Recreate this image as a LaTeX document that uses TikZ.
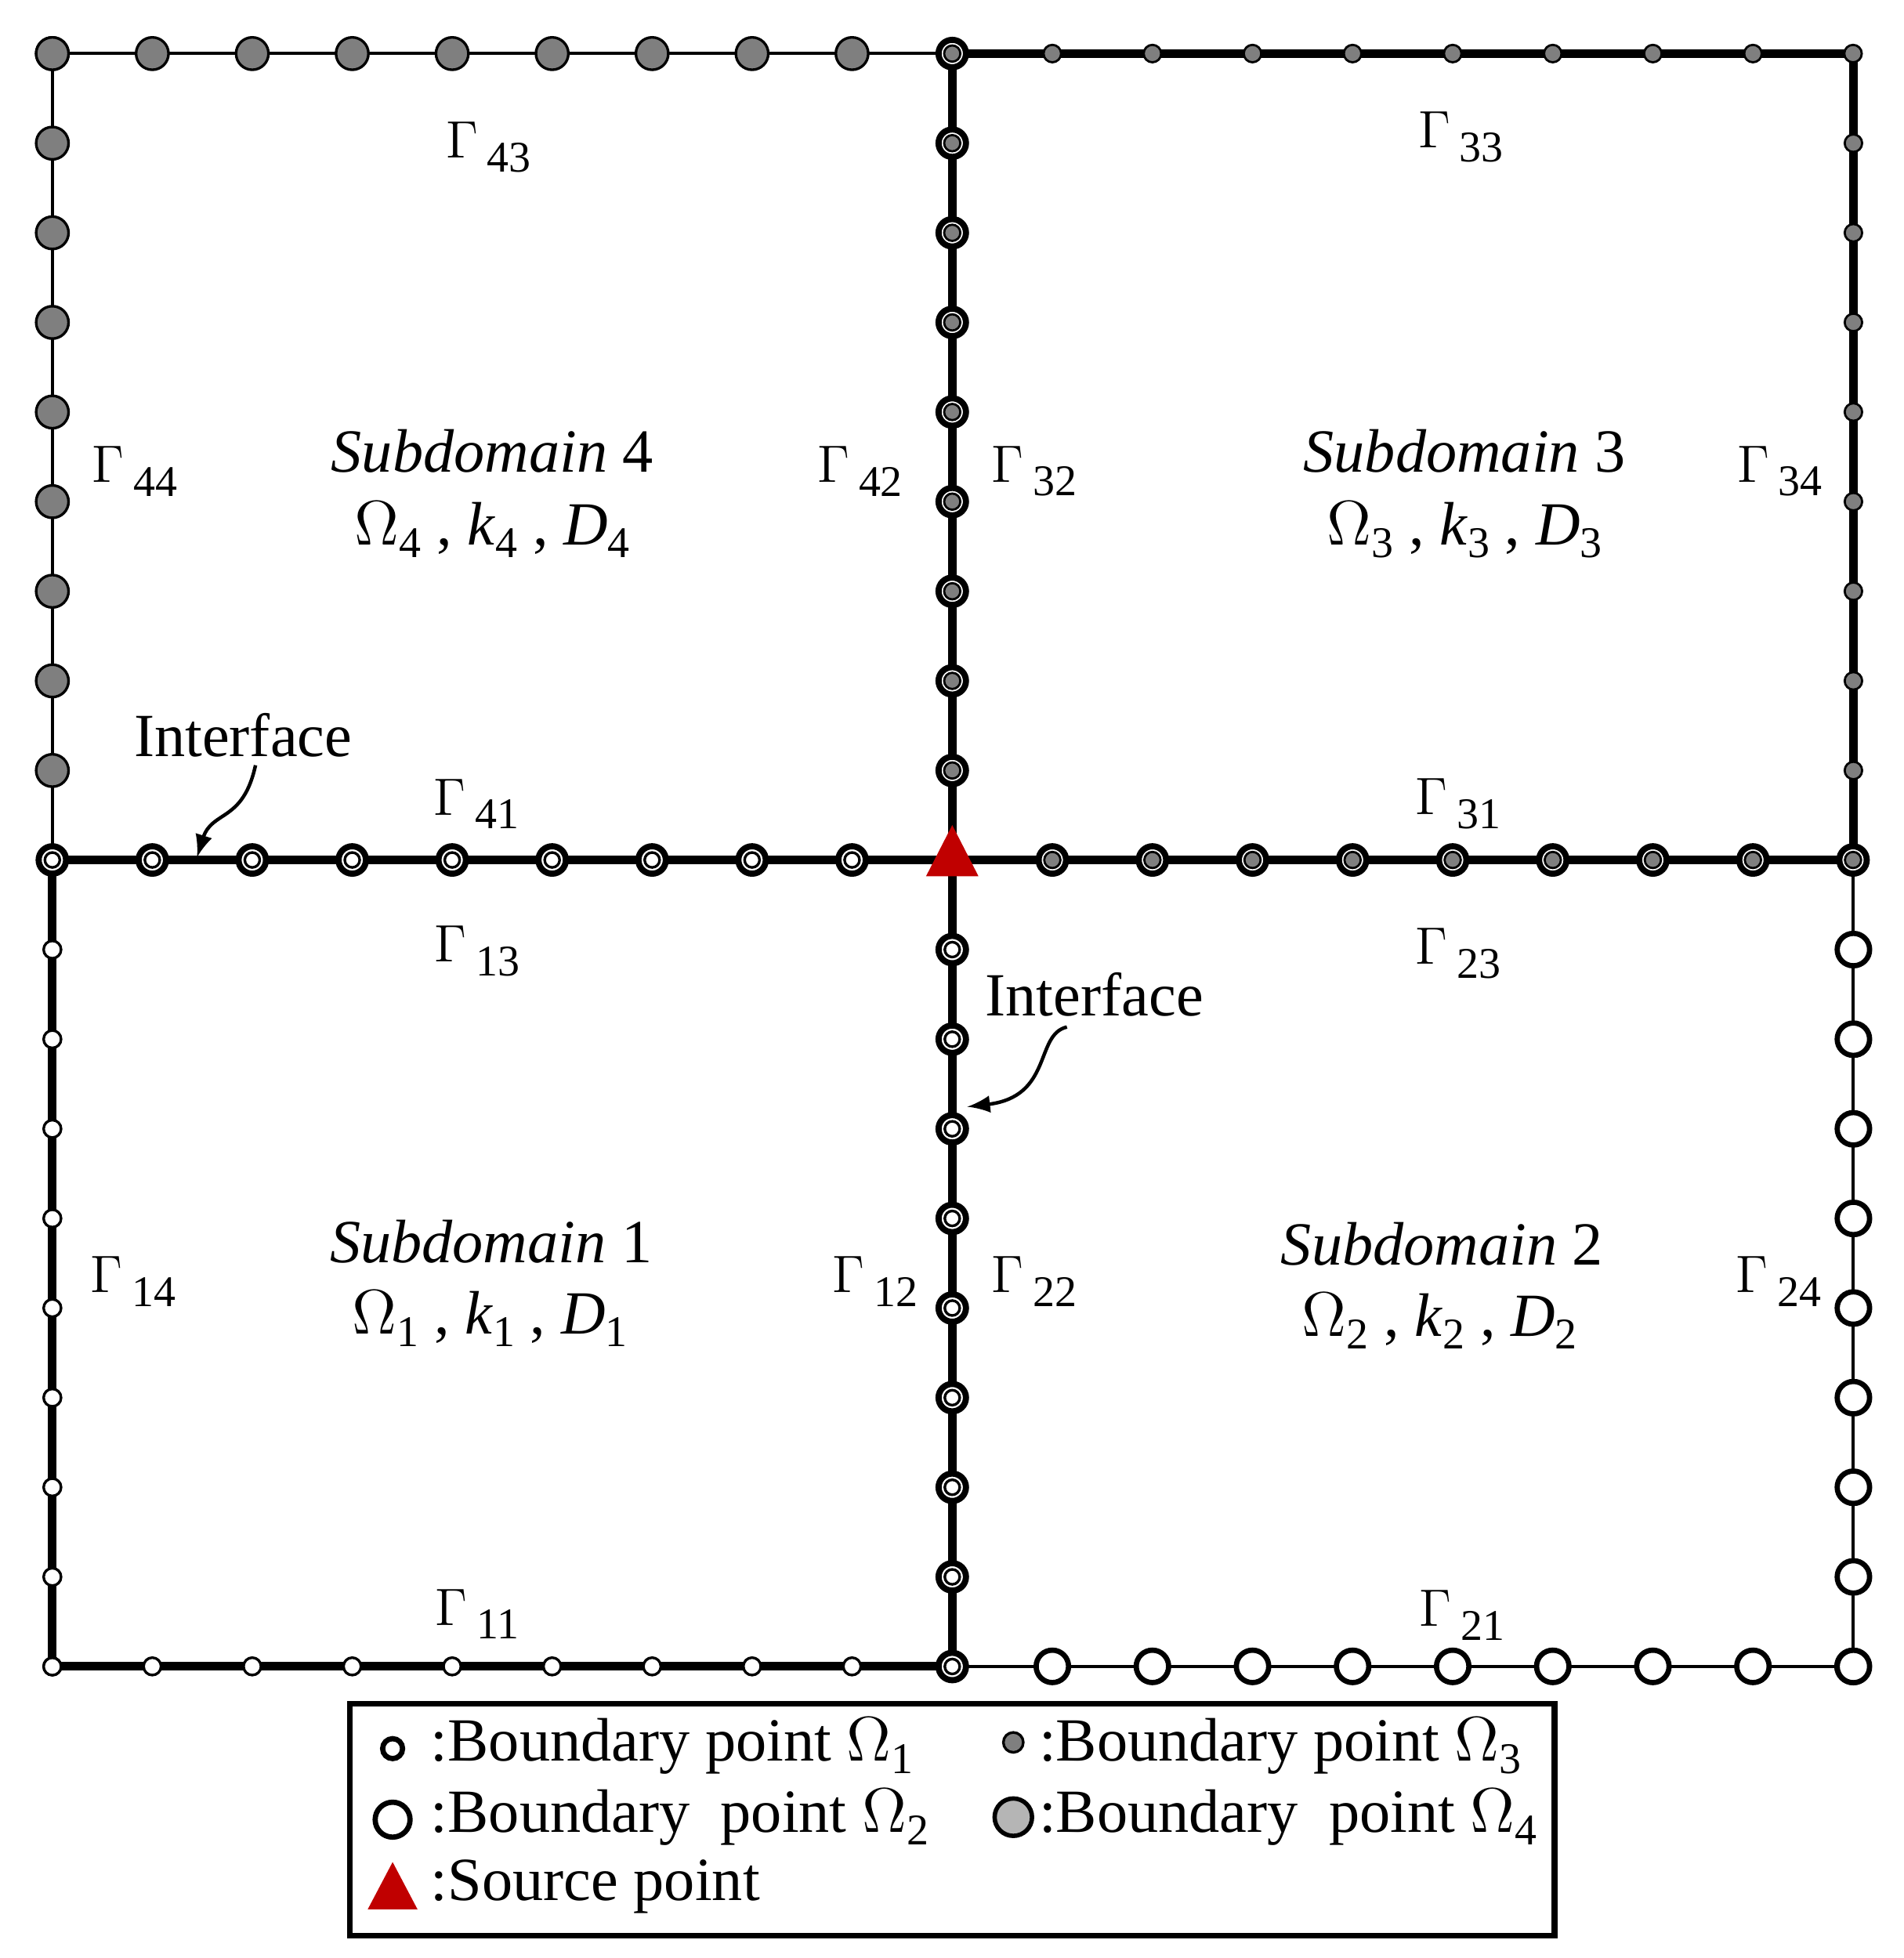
\documentclass[tikz,border=0pt]{standalone}
\usepackage{fontspec}
\setmainfont{Liberation Serif}
\begin{document}
\begin{tikzpicture}[x=0.01cm,y=-0.01cm,
  thinln/.style={line width=0.7pt},
  thickln/.style={line width=1.9pt},
  lbl/.style={font=\fontsize{12.5}{14}\selectfont, inner sep=0pt},
  big/.style={font=\fontsize{14}{16}\selectfont, inner sep=0pt},
  arr/.style={-latex, line width=0.8pt}]
\useasboundingbox (0,0) rectangle (1527,1571);
\definecolor{dg}{HTML}{7F7F7F}
\definecolor{lg}{HTML}{B5B5B5}
\definecolor{src}{HTML}{C00000}
\newcommand\Gm[1]{$\Gamma$\,\raisebox{-0.55ex}{\fontsize{10}{12}\selectfont #1}}
\newcommand\sbs[1]{\raisebox{-0.45ex}{\fontsize{10}{12}\selectfont #1}}
% corners
\coordinate (TL) at (42,43); \coordinate (TM) at (764,43); \coordinate (TR) at (1487,43);
\coordinate (ML) at (42,690); \coordinate (C) at (764,690); \coordinate (MR) at (1487,690);
\coordinate (BL) at (42,1337); \coordinate (BM) at (764,1337); \coordinate (BR) at (1487,1337);
% lines
\draw[thinln] (TM) -- (TL) -- (ML);
\draw[thinln] (BM) -- (BR) -- (MR);
\draw[thickln] (TM) -- (TR) -- (MR) -- (ML) -- (BL) -- (BM) -- (TM);
\foreach \i in {0,...,8}{
  \fill[dg,draw=black,line width=0.6pt] ({42+80.2*\i},43) circle (0.13cm);
  \fill[dg,draw=black,line width=0.6pt] (42,{43+71.9*\i}) circle (0.13cm);}
\foreach \i in {1,...,9}{
  \fill[dg,draw=black,line width=0.5pt] ({764+80.3*\i},43) circle (0.07cm);
  \fill[dg,draw=black,line width=0.5pt] (1487,{43+71.9*\i}) circle (0.07cm);}
\foreach \i in {0,...,8}{
  \draw[line width=1.4pt,fill=white] (764,{43+71.9*\i}) circle (0.11cm);
  \fill[dg,draw=black,line width=0.5pt] (764,{43+71.9*\i}) circle (0.065cm);}
\foreach \i in {1,...,9}{
  \draw[line width=1.4pt,fill=white] ({764+80.3*\i},690) circle (0.11cm);
  \fill[dg,draw=black,line width=0.5pt] ({764+80.3*\i},690) circle (0.065cm);}
\foreach \i in {0,...,8}{
  \draw[line width=1.4pt,fill=white] ({42+80.2*\i},690) circle (0.11cm);
  \draw[line width=0.6pt,fill=white] ({42+80.2*\i},690) circle (0.06cm);}
\foreach \i in {1,...,9}{
  \draw[line width=1.4pt,fill=white] (764,{690+71.9*\i}) circle (0.11cm);
  \draw[line width=0.6pt,fill=white] (764,{690+71.9*\i}) circle (0.06cm);}
\foreach \i in {1,...,9}{
  \draw[line width=0.6pt,fill=white] (42,{690+71.9*\i}) circle (0.07cm);
  \draw[line width=0.6pt,fill=white] ({42+80.2*(\i-1)},1337) circle (0.07cm);}
\foreach \i in {1,...,9}{
  \draw[line width=1.2pt,fill=white] ({764+80.3*\i},1337) circle (0.13cm);
  \draw[line width=1.2pt,fill=white] (1487,{690+71.9*\i}) circle (0.13cm);}
% source
\fill[src] (743,703) -- (785,703) -- (764,662) -- cycle;
% Gamma labels
\node[lbl] (g43) at (392,118) {\Gm{43}};
\node[lbl] (g33) at (1172,110) {\Gm{33}};
\node[lbl] (g44) at (108,378) {\Gm{44}};
\node[lbl] (g42) at (690,378) {\Gm{42}};
\node[lbl] (g32) at (830,378) {\Gm{32}};
\node[lbl] (g34) at (1428,378) {\Gm{34}};
\node[lbl] (g41) at (382,645) {\Gm{41}};
\node[lbl] (g31) at (1170,645) {\Gm{31}};
\node[lbl] (g13) at (383,763) {\Gm{13}};
\node[lbl] (g23) at (1170,765) {\Gm{23}};
\node[lbl] (g14) at (107,1028) {\Gm{14}};
\node[lbl] (g12) at (702,1028) {\Gm{12}};
\node[lbl] (g22) at (830,1028) {\Gm{22}};
\node[lbl] (g24) at (1427,1028) {\Gm{24}};
\node[lbl] (g11) at (383,1295) {\Gm{11}};
\node[lbl] (g21) at (1173,1296) {\Gm{21}};
% subdomains
\node[big] (s4) at (395,362) {\textit{Subdomain} 4};
\node[big] (o4) at (395,425) {$\Omega$\sbs{4} , \textit{k}\sbs{4} , \textit{D}\sbs{4}};
\node[big] (s3) at (1175,362) {\textit{Subdomain} 3};
\node[big] (o3) at (1175,425) {$\Omega$\sbs{3} , \textit{k}\sbs{3} , \textit{D}\sbs{3}};
\node[big] (s1) at (394,996) {\textit{Subdomain} 1};
\node[big] (o1) at (393,1058) {$\Omega$\sbs{1} , \textit{k}\sbs{1} , \textit{D}\sbs{1}};
\node[big] (s2) at (1157,998) {\textit{Subdomain} 2};
\node[big] (o2) at (1155,1060) {$\Omega$\sbs{2} , \textit{k}\sbs{2} , \textit{D}\sbs{2}};
% interfaces
\node[big] (if1) at (195,590) {Interface};
\coordinate (if1e) at (158,688);
\draw[arr] (205,614) .. controls (195,660) and (170,650) .. (if1e);
\node[big] (if2) at (878,798) {Interface};
\coordinate (if2e) at (776,888);
\draw[arr] (856,824) .. controls (830,830) and (845,880) .. (if2e);
% legend
\node[draw,line width=1.4pt,minimum width=9.66cm,minimum height=1.86cm,inner sep=0pt] (leg) at (764,1460) {};
\draw[line width=1.2pt,fill=white] (315,1403) circle (0.08cm);
\draw[line width=1.2pt,fill=white] (315,1460) circle (0.14cm);
\fill[src] (295,1532) -- (335,1532) -- (315,1494) -- cycle;
\fill[dg,draw=black,line width=0.6pt] (813,1398) circle (0.08cm);
\fill[lg,draw=black,line width=1.0pt] (813,1458) circle (0.15cm);
\node[big,anchor=west] (l1) at (345,1401) {:Boundary point $\Omega$\sbs{1}};
\node[big,anchor=west] (l2) at (345,1458) {:Boundary\ \ point $\Omega$\sbs{2}};
\node[big,anchor=west] (l5) at (345,1514) {:Source point};
\node[big,anchor=west] (l3) at (833,1401) {:Boundary point $\Omega$\sbs{3}};
\node[big,anchor=west] (l4) at (833,1458) {:Boundary\ \ point $\Omega$\sbs{4}};
\end{tikzpicture}
\end{document}
